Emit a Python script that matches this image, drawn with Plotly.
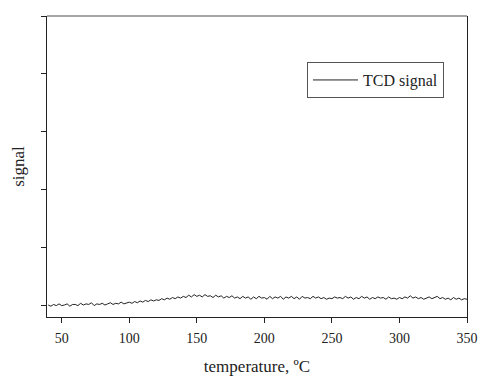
import plotly.graph_objects as go

temperature = list(range(40, 351, 2))
tcd_signal = [
    0.00, -0.02, 0.01, -0.01, 0.02, -0.01, 0.00, 0.02, -0.02, 0.01,
    0.01, -0.01, 0.03, 0.00, 0.02, 0.01, 0.04, -0.01, 0.02, 0.01,
    0.03, 0.00, 0.02, 0.04, 0.01, 0.03, 0.02, 0.05, 0.02, 0.04,
    0.05, 0.03, 0.06, 0.04, 0.07, 0.05, 0.08, 0.06, 0.09, 0.07,
    0.09, 0.08, 0.11, 0.09, 0.12, 0.10, 0.13, 0.11, 0.14, 0.12,
    0.15, 0.13, 0.17, 0.14, 0.18, 0.15, 0.17, 0.14, 0.18, 0.15,
    0.16, 0.13, 0.17, 0.14, 0.16, 0.12, 0.15, 0.13, 0.16, 0.12,
    0.14, 0.11, 0.15, 0.12, 0.14, 0.10, 0.14, 0.11, 0.15, 0.12,
    0.13, 0.10, 0.15, 0.11, 0.14, 0.12, 0.15, 0.10, 0.14, 0.12,
    0.15, 0.11, 0.14, 0.10, 0.15, 0.12, 0.13, 0.11, 0.15, 0.12,
    0.14, 0.11, 0.13, 0.10, 0.12, 0.11, 0.14, 0.12, 0.13, 0.11,
    0.15, 0.12, 0.14, 0.10, 0.13, 0.11, 0.15, 0.12, 0.14, 0.10,
    0.13, 0.11, 0.14, 0.12, 0.13, 0.10, 0.14, 0.11, 0.12, 0.10,
    0.13, 0.11, 0.14, 0.12, 0.16, 0.12, 0.14, 0.11, 0.13, 0.10,
    0.12, 0.14, 0.11, 0.13, 0.15, 0.11, 0.13, 0.10, 0.12, 0.09,
    0.13, 0.10, 0.12, 0.09, 0.11, 0.10,
]
x_ticks = [50, 100, 150, 200, 250, 300, 350]
y_ticks = [0, 1, 2, 3, 4, 5]

FONT = "Liberation Serif"

fig = go.Figure()
fig.add_trace(go.Scatter(
    x=temperature, y=tcd_signal, mode="lines", name="TCD signal",
    line=dict(color="#222222", width=1),
))

fig.update_layout(
    width=480, height=376,
    margin=dict(l=47, r=13, t=16, b=59, autoexpand=False),
    paper_bgcolor="white", plot_bgcolor="white",
    font=dict(family=FONT, size=14, color="#222222"),
    showlegend=True,
    legend=dict(
        x=0.619, y=0.847, xanchor="left", yanchor="top",
        bordercolor="#555555", borderwidth=1, bgcolor="white",
        itemwidth=45,
        font=dict(family=FONT, size=16, color="#222222"),
    ),
    xaxis=dict(
        range=[39.1, 350], tickvals=x_ticks, ticks="outside", ticklen=5,
        tickcolor="#222222", showline=True, linecolor="#222222", linewidth=1,
        showgrid=False, zeroline=False, mirror=False, automargin=False,
        tickfont=dict(family=FONT, size=14), ticklabelstandoff=3,
        title=dict(text="temperature, ºC", font=dict(family=FONT, size=17), standoff=16),
    ),
    yaxis=dict(
        range=[-0.207, 5.0], tickvals=y_ticks, showticklabels=False,
        ticks="outside", ticklen=5, tickcolor="#222222",
        showline=True, linecolor="#222222", linewidth=1, mirror=True,
        showgrid=False, zeroline=False, automargin=False,
        title=dict(text="signal", font=dict(family=FONT, size=17), standoff=12),
    ),
)
fig.add_shape(type="line", xref="paper", yref="paper", x0=0, x1=1, y0=1, y1=1,
              line=dict(color="#888888", width=1.5))

fig.write_html("out.html", config={"displayModeBar": False},
               post_script="document.body.style.margin='0';")
